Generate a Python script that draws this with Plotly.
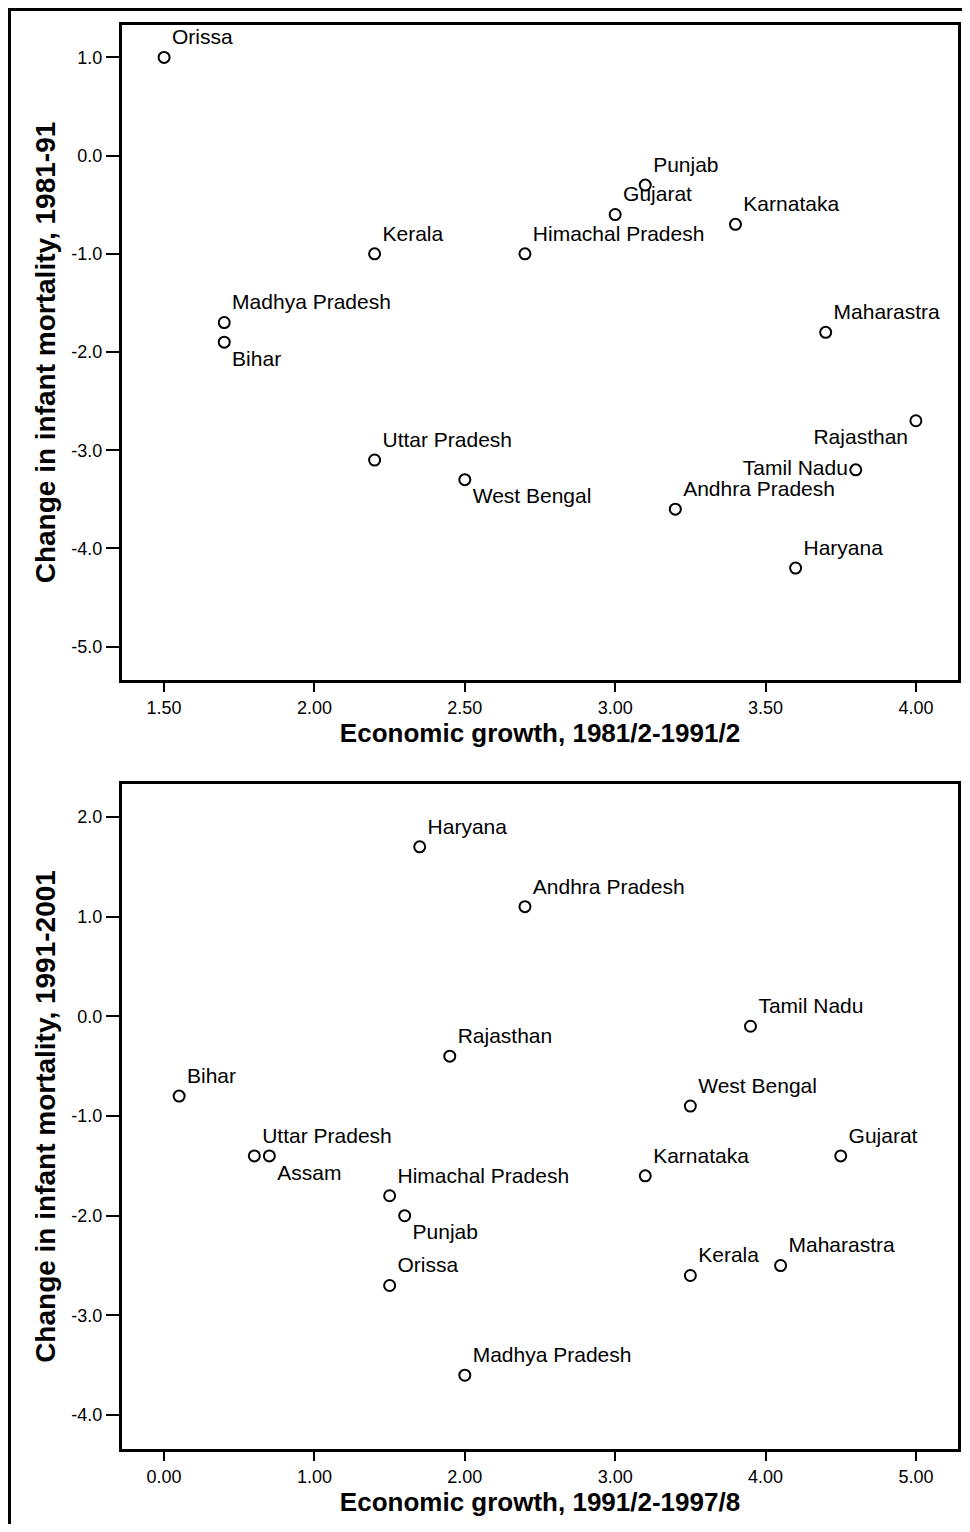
import plotly.graph_objects as go

# Panel 1: 1981-91
states_a = ["Orissa", "Punjab", "Gujarat", "Karnataka", "Kerala", "Himachal Pradesh",
            "Madhya Pradesh", "Bihar", "Maharastra", "Rajasthan", "Uttar Pradesh",
            "Tamil Nadu", "West Bengal", "Andhra Pradesh", "Haryana"]
growth_a = [1.5, 3.1, 3.0, 3.4, 2.2, 2.7, 1.7, 1.7, 3.7, 4.0, 2.2, 3.8, 2.5, 3.2, 3.6]
imr_a = [1.0, -0.3, -0.6, -0.7, -1.0, -1.0, -1.7, -1.9, -1.8, -2.7, -3.1, -3.2, -3.3, -3.6, -4.2]
pos_a = ["top right", "top right", "top right", "top right", "top right", "top right",
         "top right", "bottom right", "top right", "bottom left", "top right",
         "middle left", "bottom right", "top right", "top right"]

# Panel 2: 1991-2001
states_b = ["Haryana", "Andhra Pradesh", "Tamil Nadu", "Rajasthan", "Bihar", "West Bengal",
            "Uttar Pradesh", "Assam", "Gujarat", "Karnataka", "Himachal Pradesh", "Punjab",
            "Kerala", "Maharastra", "Orissa", "Madhya Pradesh"]
growth_b = [1.7, 2.4, 3.9, 1.9, 0.1, 3.5, 0.6, 0.7, 4.5, 3.2, 1.5, 1.6, 3.5, 4.1, 1.5, 2.0]
imr_b = [1.7, 1.1, -0.1, -0.4, -0.8, -0.9, -1.4, -1.4, -1.4, -1.6, -1.8, -2.0, -2.6, -2.5, -2.7, -3.6]
pos_b = ["top right", "top right", "top right", "top right", "top right", "top right",
         "top right", "bottom right", "top right", "top right", "top right", "bottom right",
         "top right", "top right", "top right", "top right"]

x_ticks_a = [1.5, 2.0, 2.5, 3.0, 3.5, 4.0]
x_text_a = ["1.50", "2.00", "2.50", "3.00", "3.50", "4.00"]
y_ticks_a = [1.0, 0.0, -1.0, -2.0, -3.0, -4.0, -5.0]
y_text_a = ["1.0", "0.0", "-1.0", "-2.0", "-3.0", "-4.0", "-5.0"]
x_ticks_b = [0, 1, 2, 3, 4, 5]
x_text_b = ["0.00", "1.00", "2.00", "3.00", "4.00", "5.00"]
y_ticks_b = [2.0, 1.0, 0.0, -1.0, -2.0, -3.0, -4.0]
y_text_b = ["2.0", "1.0", "0.0", "-1.0", "-2.0", "-3.0", "-4.0"]

# page body adds an 8px margin, so the figure is a bit smaller than the window
W, H = 962, 1516
OFF = 8
FONT = "Liberation Sans, Arial, sans-serif"


def px(x):
    return (x - OFF) / W


def py(y):
    return 1 - (y - OFF) / H


marker = dict(symbol="circle-open", size=11, color="black", line=dict(width=2, color="black"))
label_font = dict(family=FONT, size=21, color="black")

fig = go.Figure()
fig.add_trace(go.Scatter(x=growth_a, y=imr_a, text=states_a, textposition=pos_a,
                         mode="markers+text", marker=marker, textfont=label_font,
                         xaxis="x", yaxis="y", showlegend=False))
fig.add_trace(go.Scatter(x=growth_b, y=imr_b, text=states_b, textposition=pos_b,
                         mode="markers+text", marker=marker, textfont=label_font,
                         xaxis="x2", yaxis="y2", showlegend=False))

axis_common = dict(showline=True, linecolor="black", linewidth=3, mirror=True,
                   ticks="outside", tickwidth=2, tickcolor="black",
                   showgrid=False, zeroline=False,
                   tickfont=dict(family=FONT, size=18, color="black"))
xtitle_font = dict(family=FONT, size=26, color="black")
ytitle_font = dict(family=FONT, size=28, color="black")

fig.update_layout(
    width=W, height=H,
    margin=dict(l=0, r=0, t=0, b=0),
    paper_bgcolor="white", plot_bgcolor="white",
    xaxis=dict(axis_common, domain=[px(122), px(958)], range=[1.36, 4.14], ticklen=9,
               tickvals=x_ticks_a, ticktext=x_text_a, anchor="y",
               title=dict(text="<b>Economic growth, 1981/2-1991/2</b>", font=xtitle_font, standoff=2)),
    yaxis=dict(axis_common, domain=[py(680), py(25)], range=[-5.34, 1.33], ticklen=13,
               tickvals=y_ticks_a, ticktext=y_text_a, anchor="x",
               title=dict(text="<b>Change in infant mortality, 1981-91</b>", font=ytitle_font, standoff=8)),
    xaxis2=dict(axis_common, domain=[px(122), px(958)], range=[-0.28, 5.28], ticklen=9,
                tickvals=x_ticks_b, ticktext=x_text_b, anchor="y2",
                title=dict(text="<b>Economic growth, 1991/2-1997/8</b>", font=xtitle_font, standoff=2)),
    yaxis2=dict(axis_common, domain=[py(1449), py(784)], range=[-4.34, 2.33], ticklen=13,
                tickvals=y_ticks_b, ticktext=y_text_b, anchor="x2",
                title=dict(text="<b>Change in infant mortality, 1991-2001</b>", font=ytitle_font, standoff=8)),
    shapes=[
        dict(type="line", xref="paper", yref="paper", x0=1.5 / W, x1=1.5 / W, y0=0, y1=1,
             line=dict(color="black", width=3)),
        dict(type="line", xref="paper", yref="paper", x0=0, x1=1, y0=1 - 1.5 / H, y1=1 - 1.5 / H,
             line=dict(color="black", width=3)),
    ],
)

fig.write_html("out.html")
